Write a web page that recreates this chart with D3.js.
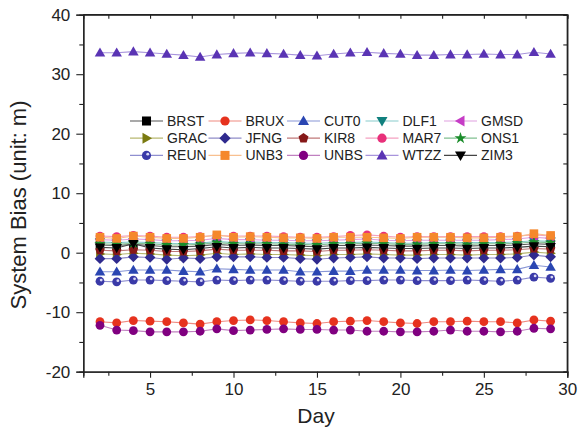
<!DOCTYPE html>
<html>
<head>
<meta charset="utf-8">
<script src="https://cdn.jsdelivr.net/npm/d3@7"></script>
<style>
  body { margin: 0; background: #fff; }
  text { font-family: "Liberation Sans", Arial, Helvetica, sans-serif; fill: #222; }
</style>
</head>
<body>
<div id="chart"></div>
<script>
// days of the month
let days = d3.range(2, 30);

// series names, in drawing order
let stations = ["BRST","BRUX","CUT0","DLF1","GMSD","GRAC","JFNG","KIR8","MAR7","ONS1","REUN","UNB3","UNBS","WTZZ","ZIM3"];

// system bias (m)
let BRST = [1.3,1.2,1.4,1.2,1.0,1.0,1.1,1.4,1.2,1.3,1.2,1.2,1.1,1.0,1.2,1.2,1.3,1.2,1.1,1.1,1.2,1.2,1.1,1.2,1.2,1.3,1.5,1.4];
let BRUX = [-11.6,-11.8,-11.4,-11.5,-11.6,-11.8,-12.0,-11.6,-11.4,-11.3,-11.4,-11.6,-11.8,-11.9,-11.6,-11.5,-11.4,-11.6,-11.8,-11.9,-11.6,-11.6,-11.5,-11.6,-11.6,-11.8,-11.3,-11.5];
let CUT0 = [-3.2,-3.2,-2.9,-2.9,-2.9,-3.1,-3.2,-2.7,-2.8,-2.9,-2.9,-2.9,-3.2,-3.2,-3.1,-3.1,-2.9,-2.9,-2.9,-3.0,-3.0,-2.9,-3.0,-2.9,-2.8,-2.8,-2.1,-2.4];
let DLF1 = [1.8,1.7,1.8,1.7,1.6,1.5,1.6,1.9,1.7,1.8,1.7,1.7,1.6,1.6,1.7,1.7,1.8,1.7,1.6,1.6,1.7,1.7,1.7,1.7,1.7,1.8,2.0,1.9];
let GMSD = [2.2,2.1,2.3,2.2,2.0,2.0,2.1,2.4,2.2,2.2,2.1,2.1,2.0,2.0,2.1,2.2,2.3,2.1,2.0,2.1,2.1,2.1,2.1,2.1,2.2,2.3,2.6,2.4];
let GRAC = [-0.2,-0.3,-0.1,-0.2,-0.4,-0.5,-0.4,-0.1,-0.3,-0.2,-0.3,-0.3,-0.4,-0.5,-0.3,-0.3,-0.2,-0.3,-0.4,-0.4,-0.3,-0.3,-0.4,-0.3,-0.3,-0.2,0.1,-0.1];
let JFNG = [-1.0,-1.0,-0.7,-0.8,-1.1,-0.9,-1.0,-0.7,-0.7,-0.7,-0.8,-0.8,-1.0,-1.1,-0.9,-0.8,-0.7,-0.9,-0.9,-1.0,-0.9,-0.9,-0.9,-0.9,-0.9,-0.8,-0.4,-0.7];
let KIR8 = [0.4,0.3,0.5,0.4,0.2,0.2,0.3,0.6,0.4,0.4,0.4,0.3,0.3,0.2,0.4,0.4,0.5,0.4,0.3,0.3,0.4,0.4,0.3,0.4,0.4,0.5,0.7,0.6];
let MAR7 = [2.8,2.7,2.9,2.8,2.6,2.6,2.7,2.9,2.8,2.8,2.8,2.7,2.6,2.6,2.7,2.9,3.0,2.8,2.6,2.7,2.7,2.7,2.7,2.7,2.7,2.8,3.0,2.8];
let ONS1 = [1.5,1.4,1.6,1.5,1.3,1.3,1.4,1.7,1.5,1.5,1.5,1.4,1.4,1.3,1.5,1.5,1.6,1.5,1.4,1.4,1.5,1.5,1.4,1.5,1.5,1.6,1.8,1.7];
let REUN = [-4.8,-4.9,-4.6,-4.6,-4.7,-4.8,-4.9,-4.6,-4.7,-4.6,-4.6,-4.7,-4.8,-4.8,-4.8,-4.7,-4.7,-4.6,-4.6,-4.7,-4.7,-4.7,-4.6,-4.7,-4.8,-4.6,-4.1,-4.3];
let UNB3 = [2.6,2.4,2.8,2.6,2.4,2.4,2.6,3.0,2.6,2.7,2.6,2.5,2.5,2.4,2.6,2.6,2.6,2.5,2.4,2.6,2.6,2.6,2.5,2.5,2.6,2.7,3.2,2.9];
let UNBS = [-12.2,-13.0,-13.1,-13.3,-13.3,-13.3,-13.2,-12.8,-13.1,-13.0,-12.9,-12.8,-12.9,-12.9,-13.0,-13.0,-13.2,-13.2,-13.3,-13.3,-13.2,-13.0,-13.2,-13.2,-13.3,-13.2,-12.7,-12.8];
let WTZZ = [33.6,33.6,33.8,33.6,33.4,33.2,32.9,33.3,33.5,33.6,33.5,33.4,33.2,33.1,33.4,33.6,33.7,33.5,33.4,33.2,33.2,33.3,33.3,33.4,33.3,33.3,33.7,33.4];
let ZIM3 = [0.9,0.8,1.5,0.8,0.6,0.5,0.7,1.0,0.8,0.9,0.8,0.8,0.7,0.6,0.8,0.8,0.9,0.8,0.7,0.7,0.8,0.8,0.7,0.8,0.8,0.9,1.1,1.0];

let values = {BRST,BRUX,CUT0,DLF1,GMSD,GRAC,JFNG,KIR8,MAR7,ONS1,REUN,UNB3,UNBS,WTZZ,ZIM3};

// tick labels
let xTicks = [5, 10, 15, 20, 25, 30];
let yTicks = [-20, -10, 0, 10, 20, 30, 40];

// marker colour, line colour, shape
let markerColors = {BRST:"#000000",BRUX:"#e6321e",CUT0:"#2a46b2",DLF1:"#11807e",GMSD:"#c63cc6",GRAC:"#7a7a10",JFNG:"#2f2a8e",KIR8:"#861818",MAR7:"#e8307a",ONS1:"#1a8c2a",REUN:"#3a3aa8",UNB3:"#f5882c",UNBS:"#800080",WTZZ:"#5a34b4",ZIM3:"#000000"};
let lineColors = {BRST:"#555555",BRUX:"#f08a80",CUT0:"#8896d6",DLF1:"#88cccc",GMSD:"#e0a0e0",GRAC:"#b8b870",JFNG:"#8f8cc8",KIR8:"#c07878",MAR7:"#f4a0c0",ONS1:"#80c090",REUN:"#8f8fd0",UNB3:"#f8c090",UNBS:"#c080c0",WTZZ:"#a894dc",ZIM3:"#444444"};
let shapes = {BRST:"square",BRUX:"circle",CUT0:"up",DLF1:"down",GMSD:"left",GRAC:"right",JFNG:"diamond",KIR8:"pentagon",MAR7:"circle",ONS1:"star",REUN:"ball",UNB3:"square",UNBS:"circle",WTZZ:"up",ZIM3:"down"};

let width = 580, height = 431;
let margin = {left: 83.3, right: 12.7, top: 14.7, bottom: 59.3};

let svg = d3.select("#chart").append("svg")
    .attr("width", width)
    .attr("height", height);

let x = d3.scaleLinear().domain([1, 30]).range([margin.left, width - margin.right]);
let y = d3.scaleLinear().domain([-20, 40]).range([height - margin.bottom, margin.top]);

// axes, box with mirrored ticks
let fs = 17;
let plain = d => String(d);
svg.append("g")
    .attr("transform", "translate(0," + y(-20) + ")")
    .call(d3.axisBottom(x).tickValues(xTicks).tickSize(6).tickPadding(5).tickFormat(plain));
svg.append("g")
    .attr("transform", "translate(0," + y(-20) + ")")
    .call(d3.axisBottom(x).tickValues(d3.range(2.5, 30, 5)).tickSize(4).tickFormat(""));
svg.append("g")
    .attr("transform", "translate(0," + y(40) + ")")
    .call(d3.axisBottom(x).tickValues(xTicks.concat(d3.range(2.5, 30, 5))).tickSize(4).tickFormat(""));

svg.append("g")
    .attr("transform", "translate(" + x(1) + ",0)")
    .call(d3.axisLeft(y).tickValues(yTicks).tickSize(7).tickPadding(6).tickFormat(plain));
svg.append("g")
    .attr("transform", "translate(" + x(1) + ",0)")
    .call(d3.axisLeft(y).tickValues(d3.range(-15, 40, 10)).tickSize(4).tickFormat(""));
svg.append("g")
    .attr("transform", "translate(" + x(30) + ",0)")
    .call(d3.axisLeft(y).tickValues(yTicks.concat(d3.range(-15, 40, 10))).tickSize(4).tickFormat(""));

svg.selectAll(".domain").attr("stroke", "#222").attr("stroke-width", 1.3);
svg.selectAll(".tick line").attr("stroke", "#222").attr("stroke-width", 1.1);
svg.selectAll(".tick text").style("font-size", fs + "px").attr("fill", "#222");

// top and right frame lines
svg.append("line").attr("x1", x(1)).attr("x2", x(30)).attr("y1", y(40)).attr("y2", y(40)).attr("stroke", "#222").attr("stroke-width", 1.3);
svg.append("line").attr("x1", x(30)).attr("x2", x(30)).attr("y1", y(40)).attr("y2", y(-20)).attr("stroke", "#222").attr("stroke-width", 1.3);

svg.append("text")
    .attr("x", 316).attr("y", 423)
    .attr("text-anchor", "middle")
    .style("font-size", "21px")
    .text("Day");

svg.append("text")
    .attr("transform", "translate(26," + 205 + ") rotate(-90)")
    .attr("text-anchor", "middle")
    .style("font-size", "22px")
    .text("System Bias (unit: m)");

// marker drawing
function marker(sel, name, size) {
  let c = markerColors[name], s = shapes[name];
  let k = size || 1;
  if (s === "square") {
    sel.append("rect").attr("x", -4.3*k).attr("y", -4.3*k).attr("width", 8.6*k).attr("height", 8.6*k).attr("fill", c);
  } else if (s === "circle") {
    sel.append("circle").attr("r", 4.4*k).attr("fill", c);
  } else if (s === "ball") {
    sel.append("circle").attr("r", 4.4*k).attr("fill", c);
    sel.append("circle").attr("cx", 1.2*k).attr("cy", -1.2*k).attr("r", 1.4*k).attr("fill", "#d8d8f4");
  } else if (s === "diamond") {
    sel.append("path").attr("d", d3.symbol(d3.symbolSquare, 58*k*k)()).attr("transform", "rotate(45)").attr("fill", c);
  } else if (s === "star") {
    sel.append("path").attr("d", d3.symbol(d3.symbolStar, 40*k*k)()).attr("fill", c);
  } else if (s === "pentagon") {
    let r = 5*k;
    let pts = d3.range(5).map(i => [r*Math.sin(i*2*Math.PI/5), -r*Math.cos(i*2*Math.PI/5)]);
    sel.append("path").attr("d", "M" + pts.join("L") + "Z").attr("fill", c);
  } else {
    let rot = {up: 0, down: 180, left: -90, right: 90}[s];
    sel.append("path").attr("d", d3.symbol(d3.symbolTriangle, 48*k*k)()).attr("transform", "rotate(" + rot + ") translate(0,0.8)").attr("fill", c);
  }
}

let line = d3.line().x((d, i) => x(days[i])).y(d => y(d));

let plot = svg.append("g");
stations.forEach(function(name) {
  let g = plot.append("g");
  g.append("path")
    .attr("d", line(values[name]))
    .attr("fill", "none")
    .attr("stroke", lineColors[name])
    .attr("stroke-width", 1.1);
  values[name].forEach(function(v, i) {
    let m = g.append("g").attr("transform", "translate(" + x(days[i]) + "," + y(v) + ")");
    marker(m, name);
  });
});

// legend, 5 columns by 3 rows
let legend = svg.append("g");
stations.forEach(function(name, i) {
  let col = i % 5, row = Math.floor(i / 5);
  let lx = 130 + col * 78.5, ly = 121 + row * 17.2;
  let g = legend.append("g").attr("transform", "translate(" + lx + "," + ly + ")");
  g.append("line").attr("x1", 0).attr("x2", 33).attr("y1", 0).attr("y2", 0)
    .attr("stroke", lineColors[name]).attr("stroke-width", 1.2);
  let m = g.append("g").attr("transform", "translate(16.5,0)");
  marker(m, name, 1.05);
  g.append("text").attr("x", 37).attr("y", 5)
    .style("font-size", "14px")
    .text(name);
});
</script>
</body>
</html>
